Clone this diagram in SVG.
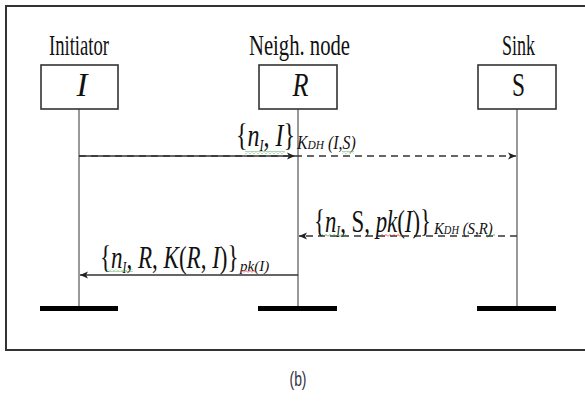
<svg xmlns="http://www.w3.org/2000/svg" width="585" height="403" viewBox="0 0 585 403">
  <defs>
    <marker id="head" viewBox="0 0 10 10" refX="10" refY="5" markerWidth="8" markerHeight="8" markerUnits="userSpaceOnUse" orient="auto">
      <path d="M0,0.5 L10,5 L0,9.5 L2.5,5 Z" fill="#222"/>
    </marker>
    <pattern id="sqG" width="4" height="3" patternUnits="userSpaceOnUse">
      <path d="M0,2.5 L2,0.5 L4,2.5" fill="none" stroke="#3a9a3a" stroke-width="0.8"/>
    </pattern>
    <pattern id="sqR" width="4" height="3" patternUnits="userSpaceOnUse">
      <path d="M0,2.5 L2,0.5 L4,2.5" fill="none" stroke="#e03030" stroke-width="0.8"/>
    </pattern>
  </defs>
  <style>
    .frame { fill: none; stroke: #333; stroke-width: 2; }
    .box { fill: #fff; stroke: #333; stroke-width: 1.6; }
    .life { stroke: #555; stroke-width: 1.2; }
    .bar { fill: #000; }
    .hdr { font-family: "Liberation Serif", "Times New Roman", serif; font-size: 29px; fill: #111; text-anchor: middle; }
    .sym { font-family: "Liberation Serif", "Times New Roman", serif; font-size: 33px; fill: #111; text-anchor: middle; }
    .lbl { font-family: "Liberation Serif", "Times New Roman", serif; fill: #111; }
    .it { font-style: italic; }
    .msg { fill: none; stroke: #333; stroke-width: 1.4; }
    .dash { stroke-dasharray: 7 5; }
    .cap { font-family: "Liberation Sans", Arial, sans-serif; font-size: 21px; fill: #334; text-anchor: middle; }
  </style>

  <rect width="585" height="403" fill="#fff"/>
  <rect class="frame" x="6" y="6" width="600" height="344"/>

  <!-- Lifelines -->
  <g id="lifelines">
    <line class="life" x1="79" y1="109" x2="79" y2="308"/>
    <line class="life" x1="298" y1="109" x2="298" y2="308"/>
    <line class="life" x1="517" y1="109" x2="517" y2="308"/>
  </g>

  <!-- Participants -->
  <g id="initiator">
    <text class="hdr" x="79" y="55" textLength="60" lengthAdjust="spacingAndGlyphs">Initiator</text>
    <rect class="box" x="41" y="65" width="77" height="44"/>
    <text class="sym it" x="82" y="96" textLength="11" lengthAdjust="spacingAndGlyphs">I</text>
    <rect class="bar" x="40" y="306" width="78" height="5"/>
  </g>
  <g id="neighbour">
    <text class="hdr" x="299.5" y="55" textLength="101" lengthAdjust="spacingAndGlyphs">Neigh. node</text>
    <rect class="box" x="259" y="65" width="78" height="44"/>
    <text class="sym it" x="300.5" y="96" textLength="16" lengthAdjust="spacingAndGlyphs">R</text>
    <rect class="bar" x="258" y="306" width="79" height="5"/>
  </g>
  <g id="sink">
    <text class="hdr" x="518.5" y="55" textLength="33" lengthAdjust="spacingAndGlyphs">Sink</text>
    <rect class="box" x="478" y="65" width="78" height="44"/>
    <text class="sym" x="518.5" y="96" textLength="13" lengthAdjust="spacingAndGlyphs">S</text>
    <rect class="bar" x="477" y="306" width="79" height="5"/>
  </g>

  <!-- Messages -->
  <g id="connectors">
    <line class="msg" x1="79" y1="156" x2="295" y2="156" marker-end="url(#head)"/>
    <line class="msg dash" x1="79" y1="156" x2="516" y2="156" marker-end="url(#head)"/>
    <line class="msg dash" x1="517" y1="236" x2="299" y2="236" marker-end="url(#head)"/>
    <line class="msg" x1="298" y1="275" x2="80" y2="275" marker-end="url(#head)"/>
  </g>

  <!-- Message labels (condensed horizontally) -->
  <g id="label-1">
    <text class="lbl" transform="translate(236,146) scale(0.75,1)" font-size="32">{<tspan class="it">n</tspan><tspan class="it" font-size="16" dy="5">I</tspan><tspan dy="-5">, </tspan><tspan class="it">I</tspan>}</text>
    <text class="lbl it" transform="translate(297,149) scale(0.88,1)" font-size="18">K<tspan font-size="13">DH</tspan> (I,S)</text>
    <rect x="245" y="151" width="40" height="3" fill="url(#sqG)"/>
    <rect x="342" y="151" width="12" height="3" fill="url(#sqG)"/>
  </g>
  <g id="label-2">
    <text class="lbl" transform="translate(314,232) scale(0.713,1)" font-size="32">{<tspan class="it">n</tspan><tspan class="it" font-size="16" dy="5">I</tspan><tspan dy="-5">, S, </tspan><tspan class="it">pk</tspan>(<tspan class="it">I</tspan>)}</text>
    <text class="lbl it" transform="translate(434,234) scale(0.87,1)" font-size="17">K<tspan font-size="12">DH</tspan> (S,R)</text>
    <rect x="322" y="234" width="24" height="3" fill="url(#sqG)"/>
    <rect x="380" y="234" width="22" height="3" fill="url(#sqR)"/>
    <rect x="486" y="234" width="9" height="3" fill="url(#sqG)"/>
  </g>
  <g id="label-3">
    <text class="lbl" transform="translate(100,268) scale(0.72,1)" font-size="32">{<tspan class="it">n</tspan><tspan class="it" font-size="16" dy="5">I</tspan><tspan dy="-5">, </tspan><tspan class="it">R</tspan>, <tspan class="it">K</tspan>(<tspan class="it">R</tspan>, <tspan class="it">I</tspan>)}</text>
    <text class="lbl it" transform="translate(240,271)" font-size="15">pk(I)</text>
    <rect x="107" y="269" width="26" height="3" fill="url(#sqG)"/>
    <rect x="240" y="270" width="17" height="3" fill="url(#sqR)"/>
  </g>

  <text class="cap" x="298" y="386" textLength="17" lengthAdjust="spacingAndGlyphs">(b)</text>
</svg>
